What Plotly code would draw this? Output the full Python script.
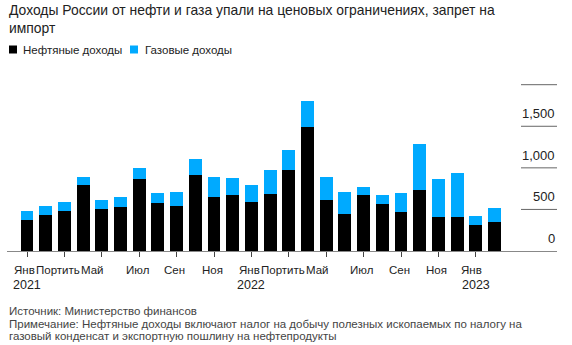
import plotly.graph_objects as go

# ---------------- data ----------------
months = ["Янв 2021", "Фев 2021", "Мар 2021", "Апр 2021", "Май 2021", "Июн 2021",
          "Июл 2021", "Авг 2021", "Сен 2021", "Окт 2021", "Ноя 2021", "Дек 2021",
          "Янв 2022", "Фев 2022", "Мар 2022", "Апр 2022", "Май 2022", "Июн 2022",
          "Июл 2022", "Авг 2022", "Сен 2022", "Окт 2022", "Ноя 2022", "Дек 2022",
          "Янв 2023", "Фев 2023"]
oil_revenue = [373, 433, 484, 789, 509, 529, 865, 573, 541, 917, 649, 669,
               593, 689, 974, 1494, 617, 441, 669, 561, 465, 737, 412, 412,
               316, 352]
gas_revenue = [111, 108, 101, 100, 108, 120, 133, 120, 172, 189, 240, 208,
               196, 285, 240, 305, 272, 272, 100, 108, 228, 549, 453, 522,
               108, 168]
series_names = ["Нефтяные доходы", "Газовые доходы"]
series_colors = ["#000000", "#00aaff"]

x_tick_index = [0, 2, 4, 6, 8, 10, 12, 14, 16, 18, 20, 22, 24]
x_tick_month = ["Янв", "Портить", "Май", "Июл", "Сен", "Ноя",
                "Янв", "Портить", "Май", "Июл", "Сен", "Ноя", "Янв"]
x_tick_year = {0: "2021", 12: "2022", 24: "2023"}
# pixel nudges of month labels (style)
x_label_shift = [-3, -6.5, -9.5, -2, -2, -2, -2, -5.5, -8.5, -2, -2, -2, -4]

y_tick_vals = [0, 500, 1000, 1500, 2000]
y_tick_text = ["0", "500", "1,000", "1,500", ""]

title_text = ("Доходы России от нефти и газа упали на ценовых ограничениях, запрет на"
              "<br>импорт")
footnotes = ["Источник: Министерство финансов",
             "Примечание: Нефтяные доходы включают налог на добычу полезных ископаемых по налогу на",
             "газовый конденсат и экспортную пошлину на нефтепродукты"]

# ---------------- layout geometry ----------------
W, H = 572, 345
ML, MR, MT, MB = 7, 15, 81, 94
PW, PH = W - ML - MR, H - MT - MB
FONT = "Liberation Sans, Arial, sans-serif"


def px_x(px):
    return (px - ML) / PW


def px_y(py):
    return (H - MB - py) / PH


x_idx = list(range(len(months)))

fig = go.Figure()
fig.add_trace(go.Bar(x=x_idx, y=oil_revenue, name=series_names[0],
                     marker=dict(color=series_colors[0], line=dict(width=0)),
                     hovertext=months))
fig.add_trace(go.Bar(x=x_idx, y=gas_revenue, name=series_names[1],
                     marker=dict(color=series_colors[1], line=dict(width=0)),
                     hovertext=months))

annotations = []
shapes = []

# title
annotations.append(dict(text=title_text, xref="paper", yref="paper",
                        x=px_x(7), y=px_y(0), xanchor="left", yanchor="top",
                        align="left", showarrow=False,
                        font=dict(size=13.9, color="#222", family=FONT)))

# legend (custom, to match compact square markers)
legend_px = [(9, 20.7), (130, 142.7)]
for (sq_x, tx_x), name, col in zip(legend_px, series_names, series_colors):
    shapes.append(dict(type="rect", xref="paper", yref="paper",
                       x0=px_x(sq_x), x1=px_x(sq_x + 8),
                       y0=px_y(53.5), y1=px_y(45.5),
                       fillcolor=col, line=dict(width=0)))
    annotations.append(dict(text=name, xref="paper", yref="paper",
                            x=px_x(tx_x), y=px_y(49.5), xanchor="left", yanchor="middle",
                            showarrow=False, font=dict(size=11.5, color="#222", family=FONT)))

# y axis labels and short gridlines on the right
for v, t in zip(y_tick_vals, y_tick_text):
    if v != 0:
        shapes.append(dict(type="line", xref="paper", yref="y",
                           x0=px_x(521), x1=1, y0=v, y1=v,
                           line=dict(color="#666", width=1)))
    if t:
        annotations.append(dict(text=t, xref="paper", yref="y", x=1, y=v,
                                xanchor="right", yanchor="middle", yshift=12.5,
                                showarrow=False,
                                font=dict(size=13, color="#222", family=FONT)))

# x axis labels
for i, m, s in zip(x_tick_index, x_tick_month, x_label_shift):
    annotations.append(dict(text=m, xref="x", yref="paper", x=i, y=px_y(270),
                            xanchor="center", yanchor="middle", xshift=s,
                            showarrow=False,
                            font=dict(size=11.5, color="#222", family=FONT)))
    if i in x_tick_year:
        annotations.append(dict(text=x_tick_year[i], xref="x", yref="paper", x=i,
                                y=px_y(284.5), xanchor="center", yanchor="middle",
                                showarrow=False,
                                font=dict(size=12.5, color="#222", family=FONT)))

# footnotes
for py, t in zip([310.5, 323.5, 336], footnotes):
    annotations.append(dict(text=t, xref="paper", yref="paper", x=px_x(7), y=px_y(py),
                            xanchor="left", yanchor="middle", showarrow=False,
                            font=dict(size=11.5, color="#444", family=FONT)))

fig.update_layout(
    width=W, height=H,
    margin=dict(l=ML, r=MR, t=MT, b=MB, pad=0),
    paper_bgcolor="white", plot_bgcolor="white",
    barmode="stack", bargap=0.31,
    showlegend=False,
    font=dict(family=FONT, color="#222"),
    xaxis=dict(range=[-1.0695, 28.342], tickvals=x_tick_index, showticklabels=False,
               ticks="outside", ticklen=5, tickwidth=1, tickcolor="#444",
               showline=True, linecolor="#888", linewidth=1,
               showgrid=False, zeroline=False, fixedrange=True),
    yaxis=dict(range=[0, 2044.5], showticklabels=False, showgrid=False,
               zeroline=False, showline=False, ticks="", fixedrange=True),
    annotations=annotations, shapes=shapes,
)

fig.write_html("out.html")
